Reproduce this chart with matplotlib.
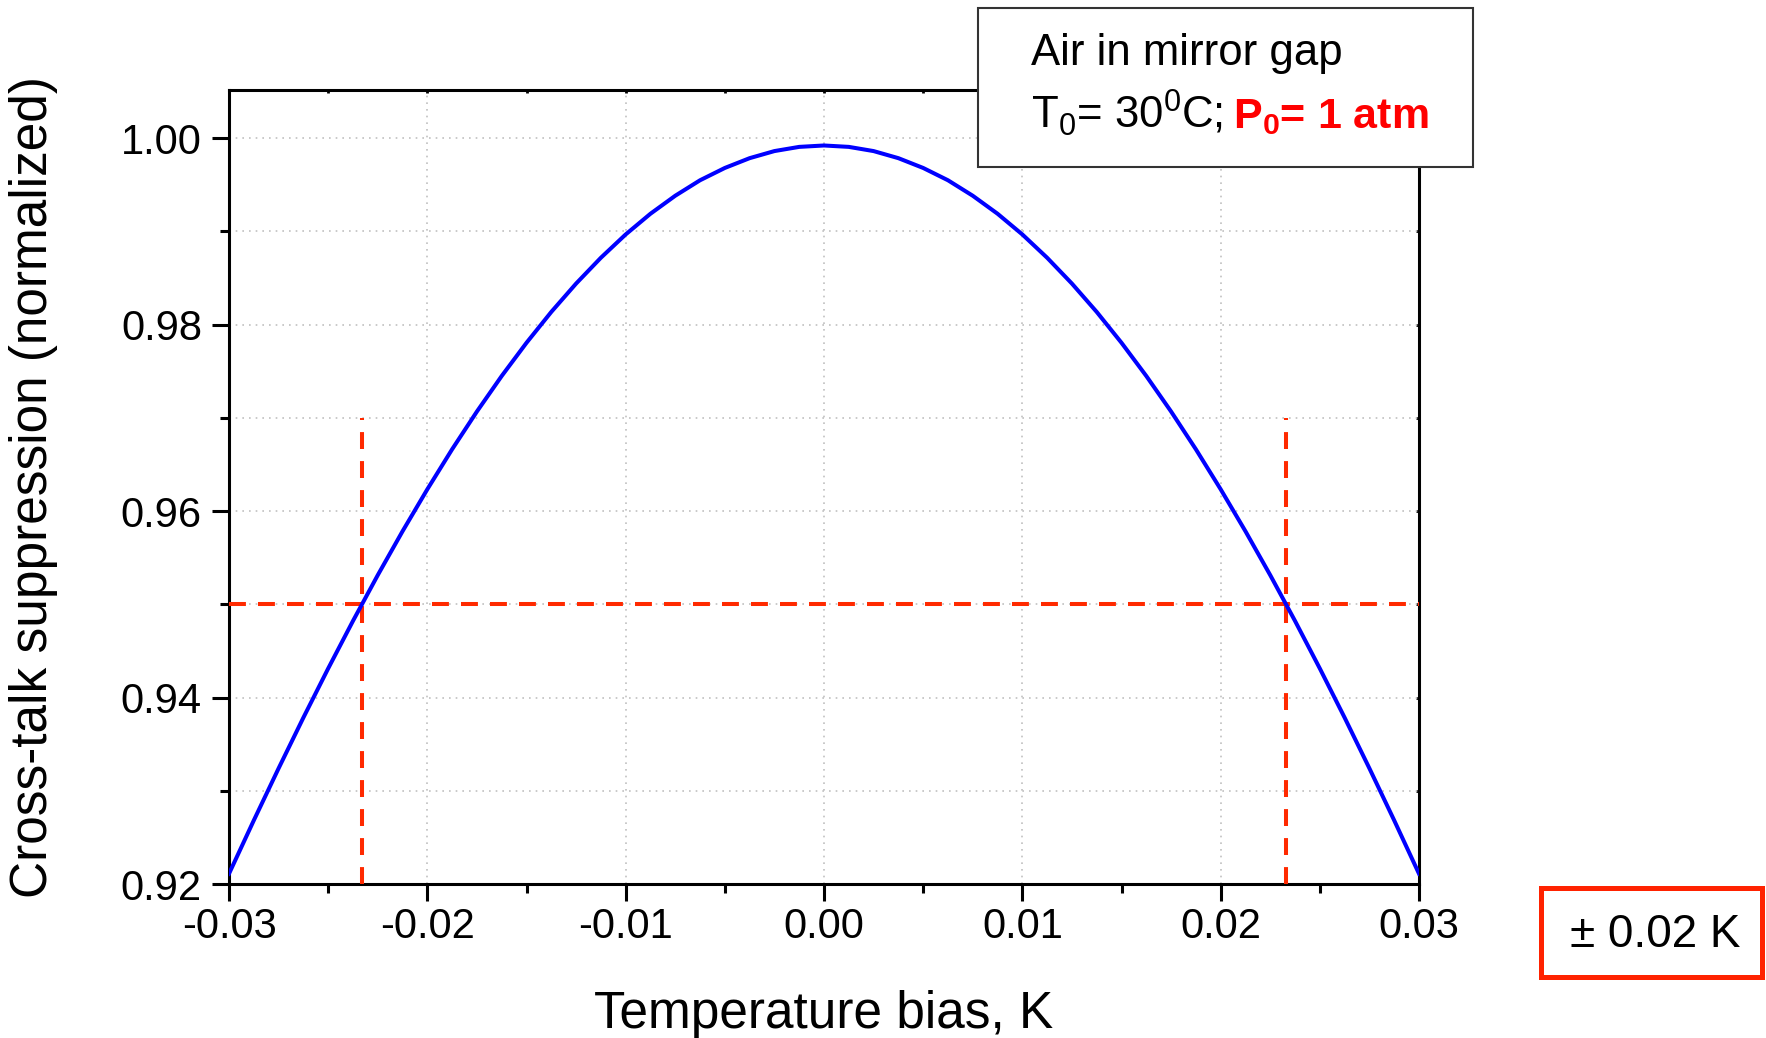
import matplotlib
matplotlib.use("Agg")
from matplotlib import pyplot as plt
from matplotlib.patches import Rectangle
from matplotlib.ticker import MultipleLocator, FormatStrFormatter

plt.rcParams['font.family'] = ['Liberation Sans', 'DejaVu Sans']
plt.rcParams['mathtext.fontset'] = 'custom'
plt.rcParams['mathtext.rm'] = 'Liberation Sans'
plt.rcParams['mathtext.bf'] = 'Liberation Sans:bold'
plt.rcParams['mathtext.default'] = 'regular'

# curve (temperature bias in K, normalized suppression)
bias = [-0.03, -0.02875, -0.0275, -0.02625, -0.025, -0.02375, -0.0225, -0.02125,
        -0.02, -0.01875, -0.0175, -0.01625, -0.015, -0.01375, -0.0125, -0.01125,
        -0.01, -0.00875, -0.0075, -0.00625, -0.005, -0.00375, -0.0025, -0.00125,
        0.0,
        0.00125, 0.0025, 0.00375, 0.005, 0.00625, 0.0075, 0.00875, 0.01,
        0.01125, 0.0125, 0.01375, 0.015, 0.01625, 0.0175, 0.01875, 0.02,
        0.02125, 0.0225, 0.02375, 0.025, 0.02625, 0.0275, 0.02875, 0.03]
suppression = [0.92110, 0.92682, 0.93240, 0.93784, 0.94311, 0.94821, 0.95312, 0.95783,
               0.96233, 0.96662, 0.97067, 0.97448, 0.97804, 0.98135, 0.98439, 0.98716,
               0.98966, 0.99188, 0.99381, 0.99547, 0.99679, 0.99784, 0.99860, 0.99905,
               0.99920,
               0.99905, 0.99860, 0.99784, 0.99679, 0.99547, 0.99381, 0.99188, 0.98966,
               0.98716, 0.98439, 0.98135, 0.97804, 0.97448, 0.97067, 0.96662, 0.96233,
               0.95783, 0.95312, 0.94821, 0.94311, 0.93784, 0.93240, 0.92682, 0.92110]

level = 0.95            # threshold line
cross = [-0.0233, 0.0233]  # where the curve meets the threshold
vline_top = 0.97

W, H = 1766, 1038
fig = plt.figure(figsize=(W / 100, H / 100), dpi=100)
ax = fig.add_axes([229 / W, 1 - 884 / H, (1419 - 229) / W, (884 - 90) / H])

ax.plot(bias, suppression, color='#0000ff', lw=2.9, zorder=4)
red = '#ff2a00'
ax.plot([-0.03, 0.03], [level, level], color=red, lw=2.9, dashes=(4.2, 3), zorder=3)
for c in cross:
    ax.plot([c, c], [0.92, vline_top], color=red, lw=2.9, dashes=(4.2, 3), zorder=3)

ax.set_xlim(-0.03, 0.03)
ax.set_ylim(0.92, 1.00515)
ax.xaxis.set_major_locator(MultipleLocator(0.01))
ax.xaxis.set_minor_locator(MultipleLocator(0.005))
ax.yaxis.set_major_locator(MultipleLocator(0.02))
ax.yaxis.set_minor_locator(MultipleLocator(0.01))
ax.xaxis.set_major_formatter(FormatStrFormatter('%.2f'))
ax.yaxis.set_major_formatter(FormatStrFormatter('%.2f'))

ax.grid(True, which='major', axis='x', color='#c0c0c0', lw=1.2, linestyle=(0, (1, 3)))
ax.grid(True, which='both', axis='y', color='#c0c0c0', lw=1.2, linestyle=(0, (1, 3)))
ax.set_axisbelow(True)

for s in ax.spines.values():
    s.set_linewidth(2.2)
    s.set_color('black')

ax.tick_params(which='major', direction='out', length=12.5, width=2.2, labelsize=30,
               top=False, right=False)
ax.tick_params(which='minor', direction='out', length=6.5, width=2.2,
               top=False, right=False)
ax.tick_params(axis='x', which='major', pad=4)
ax.tick_params(axis='y', which='major', pad=7)

# small inward ticks on top and right
sec_x = ax.secondary_xaxis('top')
sec_x.xaxis.set_major_locator(MultipleLocator(0.01))
sec_x.xaxis.set_minor_locator(MultipleLocator(0.005))
sec_x.tick_params(which='both', direction='in', length=2.5, width=2, labeltop=False)
sec_x.spines['top'].set_visible(False)
sec_y = ax.secondary_yaxis('right')
sec_y.yaxis.set_major_locator(MultipleLocator(0.01))
sec_y.tick_params(which='both', direction='in', length=2.5, width=2, labelright=False)
sec_y.spines['right'].set_visible(False)

fig.text(34 / W, 1 - 487 / H, 'Cross-talk suppression (normalized)', rotation=90,
         ha='center', va='center', fontsize=37)
fig.text(824 / W, 1 - 1028 / H, 'Temperature bias, K', ha='center', va='baseline',
         fontsize=37)

# annotation box at the top
fig.patches.append(Rectangle((978 / W, 1 - 167 / H), (1473 - 978) / W, (167 - 8) / H,
                             transform=fig.transFigure, facecolor='white',
                             edgecolor='#333333', lw=1.5, zorder=5))
fig.text(1031 / W, 1 - 65 / H, 'Air in mirror gap', fontsize=31.5, va='baseline', zorder=6)
t1 = fig.text(1031 / W, 1 - 128 / H, r'T$_0$= 30$^0$C;', fontsize=31.5, va='baseline', zorder=6)
fig.canvas.draw()
bb = t1.get_window_extent(fig.canvas.get_renderer())
fig.text((bb.x1 + 10) / W, 1 - 128 / H, r'P$_0$= 1 atm', fontsize=31, fontweight='bold',
         color='#ff0000', va='baseline', zorder=6)

# red box bottom right
fig.patches.append(Rectangle((1541 / W, 1 - 977 / H), (1762 - 1541) / W, (977 - 888) / H,
                             transform=fig.transFigure, facecolor='white',
                             edgecolor='#ff2200', lw=3.6, zorder=5))
fig.text(1655 / W, 1 - 947 / H, '± 0.02 K', fontsize=33, ha='center', va='baseline', zorder=6)

fig.savefig('out.png', dpi=100)
